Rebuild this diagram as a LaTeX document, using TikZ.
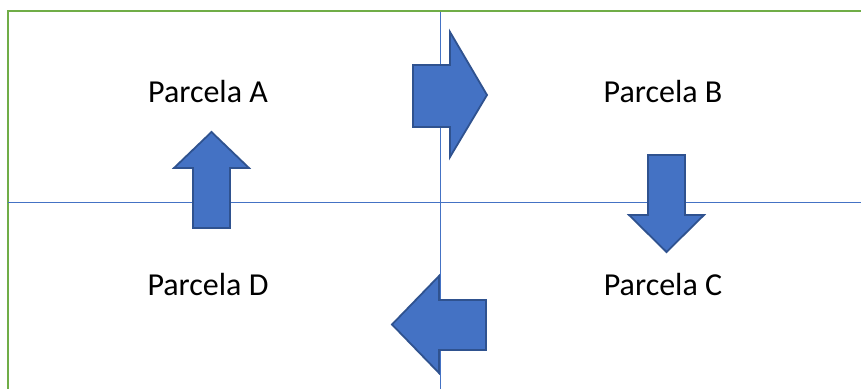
\documentclass[tikz,border=0pt]{standalone}
\usepackage{fontspec}
\setmainfont{Carlito}
\definecolor{fieldgreen}{HTML}{70AD47}
\definecolor{arrowblue}{HTML}{4472C4}
\definecolor{arrowedge}{HTML}{2F528F}
\begin{document}
\begin{tikzpicture}[x=0.5pt, y=-0.5pt, node distance=227.5pt,
    plotname/.style={font=\fontsize{16pt}{19pt}\selectfont, inner sep=0pt},
    blockarrow/.style={fill=arrowblue, draw=arrowedge, line width=0.9pt, line join=miter}]
\useasboundingbox (0,0) rectangle (861,389);

% border and the two dividing lines
\draw[fieldgreen, line width=1.3pt] (8,389) -- (8,11) -- (861,11);
\draw[arrowblue, line width=0.5pt] (440.5,12) -- (440.5,389);
\draw[arrowblue, line width=0.5pt] (8,203) -- (861,203);

\node[plotname] (A) at (208,92) {Parcela A};
\node[plotname] (B) [right of=A] {Parcela B};
\node[plotname] (D) [below of=A, node distance=96.5pt] {Parcela D};
\node[plotname] (C) [below of=B, node distance=96.5pt] {Parcela C};

% rotation arrows A -> B -> C -> D -> A
\draw[blockarrow] (413,65) -- (450,65) -- (450,32) -- (487,95) -- (450,157) -- (450,127) -- (413,127) -- cycle;
\draw[blockarrow] (648,155) -- (685,155) -- (685,215) -- (704,215) -- (666.5,252) -- (629,215) -- (648,215) -- cycle;
\draw[blockarrow] (486,300) -- (439,300) -- (439,276) -- (392,324.5) -- (439,373) -- (439,350) -- (486,350) -- cycle;
\draw[blockarrow] (193,228) -- (193,168) -- (174,168) -- (211.5,132) -- (249,168) -- (230,168) -- (230,228) -- cycle;
\end{tikzpicture}
\end{document}
